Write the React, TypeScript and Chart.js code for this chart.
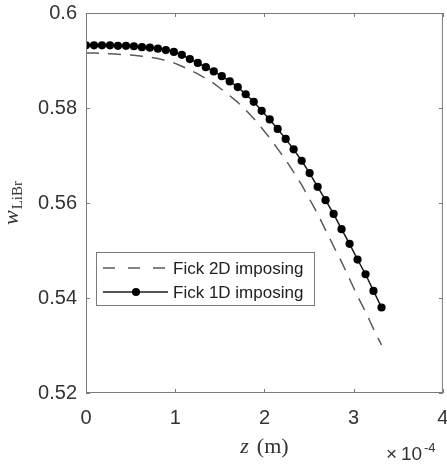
import React, { useEffect, useRef } from "react";
import { Chart, registerables } from "chart.js";

Chart.register(...registerables);

// z positions in units of 1e-4 m
const Z_POS = [
  0, 0.09, 0.179, 0.269, 0.358, 0.448, 0.537, 0.627, 0.716, 0.806,
  0.895, 0.985, 1.074, 1.164, 1.253, 1.343, 1.432, 1.522, 1.611, 1.701,
  1.79, 1.88, 1.969, 2.059, 2.148, 2.238, 2.327, 2.417, 2.506, 2.596,
  2.685, 2.775, 2.864, 2.954, 3.043, 3.133, 3.222, 3.312,
];

const FICK_2D = [
  0.5916, 0.5916, 0.5915, 0.5914, 0.5913, 0.5912, 0.5911, 0.5909, 0.5907, 0.5904,
  0.59, 0.5895, 0.5888, 0.588, 0.5872, 0.5862, 0.5852, 0.5839, 0.5826, 0.5812,
  0.5796, 0.5778, 0.5758, 0.5737, 0.5714, 0.5691, 0.5665, 0.5638, 0.5608, 0.5577,
  0.5543, 0.5509, 0.5476, 0.544, 0.5404, 0.5371, 0.5335, 0.5301,
];

const FICK_1D = [
  0.5932, 0.5932, 0.5932, 0.5932, 0.5931, 0.5931, 0.593, 0.5928, 0.5927, 0.5925,
  0.5922, 0.5918, 0.5912, 0.5903, 0.5895, 0.5886, 0.5877, 0.5867, 0.5856, 0.5844,
  0.5829, 0.5813, 0.5794, 0.5776, 0.5756, 0.5735, 0.5713, 0.5689, 0.5663, 0.5634,
  0.5606, 0.5577, 0.5545, 0.5514, 0.5481, 0.545, 0.5415, 0.538,
];

const X_TICKS = [0, 1, 2, 3, 4];
const Y_TICKS = [0.52, 0.54, 0.56, 0.58, 0.6];
const SERIES_LABELS = ["Fick 2D imposing", "Fick 1D imposing"];
const X_EXPONENT = "-4";

const SANS = "'Liberation Sans', Arial, Helvetica, sans-serif";
const SERIF = "'Liberation Serif', 'DejaVu Serif', 'Times New Roman', serif";
const TEXT = "#333333";
const AXIS = "#7a7a7a";
const DASH_COLOR = "#5a5a5a";
const SOLID_COLOR = "#1a1a1a";

const framePlugin = {
  id: "frame",
  afterDraw(chart: any) {
    const { ctx, chartArea } = chart;
    const { left, right, top, bottom } = chartArea;
    const xs = chart.scales.x;
    const ys = chart.scales.y;
    ctx.save();
    ctx.strokeStyle = AXIS;
    ctx.lineWidth = 1;
    ctx.strokeRect(left + 0.5, top + 0.5, right - left - 1, bottom - top - 1);
    const tl = 4;
    ctx.beginPath();
    X_TICKS.forEach((v) => {
      const px = Math.round(xs.getPixelForValue(v)) + 0.5;
      ctx.moveTo(px, bottom);
      ctx.lineTo(px, bottom - tl);
      ctx.moveTo(px, top);
      ctx.lineTo(px, top + tl);
    });
    Y_TICKS.forEach((v) => {
      const py = Math.round(ys.getPixelForValue(v)) + 0.5;
      ctx.moveTo(left, py);
      ctx.lineTo(left + tl, py);
      ctx.moveTo(right, py);
      ctx.lineTo(right - tl, py);
    });
    ctx.stroke();

    // legend
    const bx = 96.5, by = 252.5, bw = 218, bh = 53;
    ctx.fillStyle = "#ffffff";
    ctx.fillRect(bx, by, bw, bh);
    ctx.strokeStyle = AXIS;
    ctx.strokeRect(bx, by, bw, bh);
    const rows = [268, 292];
    const ds = chart.data.datasets;
    ctx.strokeStyle = DASH_COLOR;
    ctx.lineWidth = 1.5;
    ctx.setLineDash([12, 13]);
    ctx.beginPath();
    ctx.moveTo(103, rows[0]);
    ctx.lineTo(168, rows[0]);
    ctx.stroke();
    ctx.setLineDash([]);
    ctx.strokeStyle = SOLID_COLOR;
    ctx.beginPath();
    ctx.moveTo(103, rows[1]);
    ctx.lineTo(168, rows[1]);
    ctx.stroke();
    ctx.fillStyle = "#000";
    ctx.beginPath();
    ctx.arc(136, rows[1], 4, 0, Math.PI * 2);
    ctx.fill();
    ctx.fillStyle = "#222";
    ctx.font = `17px ${SANS}`;
    ctx.textAlign = "left";
    ctx.textBaseline = "middle";
    ctx.fillText(ds[0].label, 173, rows[0] + 1);
    ctx.fillText(ds[1].label, 173, rows[1] + 1);

    // x axis title: z (m)
    ctx.fillStyle = TEXT;
    ctx.textBaseline = "alphabetic";
    ctx.textAlign = "left";
    ctx.font = `italic 22px ${SERIF}`;
    const zW = ctx.measureText("z").width;
    ctx.font = `22px ${SERIF}`;
    const mW = ctx.measureText("(m)").width;
    const gap = 8;
    const xt = zW + gap + mW;
    const cx = (left + right) / 2;
    ctx.font = `italic 22px ${SERIF}`;
    ctx.fillText("z", cx - xt / 2, 453);
    ctx.font = `22px ${SERIF}`;
    ctx.fillText("(m)", cx - xt / 2 + zW + gap, 453);

    // exponent ×10^-4
    ctx.font = `19px ${SANS}`;
    ctx.fillText("\u00d7", 386, 460);
    ctx.fillText("10", 401, 460);
    ctx.font = `13px ${SANS}`;
    ctx.fillText(X_EXPONENT, 424, 452);
    ctx.restore();

    // y axis title: w_LiBr, drawn horizontally off-screen then rotated in
    const off = document.createElement("canvas");
    off.width = 80;
    off.height = 30;
    const o = off.getContext("2d");
    if (o) {
      o.fillStyle = TEXT;
      o.textAlign = "left";
      o.textBaseline = "alphabetic";
      o.font = `italic 22px ${SERIF}`;
      const wW = o.measureText("w").width;
      o.font = `15px ${SERIF}`;
      const subW = o.measureText("LiBr").width;
      const total = wW + 1 + subW;
      const sx = (80 - total) / 2;
      o.font = `italic 22px ${SERIF}`;
      o.fillText("w", sx, 20);
      o.font = `15px ${SERIF}`;
      o.fillText("LiBr", sx + wW + 1, 24);
      const cy = (top + bottom) / 2;
      ctx.save();
      ctx.translate(18 - 20, cy + 40);
      ctx.rotate(-Math.PI / 2);
      ctx.drawImage(off, 0, 0);
      ctx.restore();
    }
  },
};

const App = () => {
  const ref = useRef<HTMLCanvasElement>(null);
  useEffect(() => {
    const canvas = ref.current;
    if (!canvas) return;
    const chart = new Chart(canvas, {
      type: "line",
      data: {
        datasets: [
          {
            label: SERIES_LABELS[0],
            data: Z_POS.map((x, i) => ({ x, y: FICK_2D[i] })),
            borderColor: DASH_COLOR,
            borderWidth: 1.5,
            borderDash: [13, 9],
            pointRadius: 0,
            fill: false,
            tension: 0,
          },
          {
            label: SERIES_LABELS[1],
            data: Z_POS.map((x, i) => ({ x, y: FICK_1D[i] })),
            borderColor: SOLID_COLOR,
            borderWidth: 1.5,
            pointRadius: 4.1,
            pointBackgroundColor: "#000",
            pointBorderColor: "#000",
            pointBorderWidth: 0,
            fill: false,
            tension: 0,
          },
        ],
      },
      options: {
        responsive: false,
        animation: false,
        events: [],
        layout: { padding: { top: 13, right: 4, left: 0, bottom: 0 } },
        plugins: { legend: { display: false }, tooltip: { enabled: false } },
        scales: {
          x: {
            type: "linear",
            min: 0,
            max: 4,
            afterBuildTicks: (s: any) => {
              s.ticks = X_TICKS.map((v) => ({ value: v }));
            },
            ticks: {
              font: { family: SANS, size: 20 },
              color: TEXT,
              padding: 13,
              maxRotation: 0,
              autoSkip: false,
              callback: (v: any) => String(v),
            },
            grid: { display: false, drawTicks: false },
            border: { display: false },
            afterFit: (s: any) => {
              s.height = 72;
              s.paddingLeft = 0;
              s.paddingRight = 0;
            },
          },
          y: {
            type: "linear",
            min: 0.52,
            max: 0.6,
            afterBuildTicks: (s: any) => {
              s.ticks = Y_TICKS.map((v) => ({ value: v }));
            },
            ticks: {
              font: { family: SANS, size: 20 },
              color: TEXT,
              padding: 9,
              autoSkip: false,
              callback: (v: any) => String(parseFloat(Number(v).toFixed(2))),
            },
            grid: { display: false, drawTicks: false },
            border: { display: false },
            afterFit: (s: any) => {
              s.width = 86;
              s.paddingTop = 0;
              s.paddingBottom = 0;
            },
          },
        },
      },
      plugins: [framePlugin],
    });
    return () => chart.destroy();
  }, []);
  return (
    <div
      style={{
        position: "absolute",
        left: 0,
        top: 0,
        width: 447,
        height: 465,
        background: "#fff",
      }}
    >
      <canvas ref={ref} width={447} height={465} style={{ display: "block" }} />
    </div>
  );
};

export default App;
